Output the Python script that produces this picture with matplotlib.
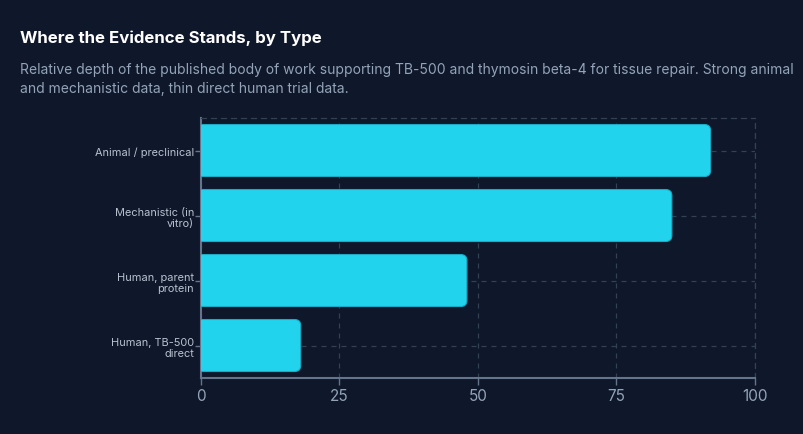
import matplotlib.pyplot as plt
from matplotlib.patches import FancyBboxPatch

categories = ['Animal / preclinical', 'Mechanistic (in\nvitro)',
              'Human, parent\nprotein', 'Human, TB-500\ndirect']
values = [92, 85, 48, 18]
xticks = [0, 25, 50, 75, 100]

bg = '#0f172a'
bar_col = '#22d3ee'
grid_col = '#334155'
axis_col = '#64748b'

plt.rcParams['font.family'] = ['Inter', 'DejaVu Sans']

fig = plt.figure(figsize=(8.04, 4.35), dpi=100, facecolor=bg)
ax = fig.add_axes([0.25, 0.1287, 0.689, 0.5977], facecolor=bg)

ypos = list(range(len(categories)))
bars = ax.barh(ypos, values, height=0.8, color='none')

# swap plain bars for ones with rounded right corners
for b in bars:
    x0, y0 = b.get_x(), b.get_y()
    w, h = b.get_width(), b.get_height()
    p = FancyBboxPatch((x0 - 3, y0), w + 3, h,
                       boxstyle='round,pad=0,rounding_size=1.1',
                       mutation_aspect=0.085,
                       facecolor=bar_col, edgecolor='#1ba9c4', linewidth=0.8,
                       zorder=3)
    ax.add_patch(p)
    b.remove()

ax.set_xlim(0, 100)
ax.set_ylim(3.5, -0.5)
ax.set_yticks(ypos)
ax.set_yticklabels(categories, fontsize=7.9, color='#b8c2d0', linespacing=1.2)
ax.set_xticks(xticks)
ax.set_xticklabels([str(t) for t in xticks], fontsize=11, color='#94a3b8')

ax.grid(True, color=grid_col, linestyle=(0, (4, 4)), linewidth=0.9, zorder=0)
ax.set_axisbelow(True)

for s in ['top', 'right']:
    ax.spines[s].set_color(grid_col)
    ax.spines[s].set_linestyle((0, (4, 4)))
    ax.spines[s].set_linewidth(0.9)
for s in ['left', 'bottom']:
    ax.spines[s].set_color(axis_col)
    ax.spines[s].set_linewidth(1.5)

ax.tick_params(axis='y', length=4, width=1, color=axis_col, pad=1)
ax.tick_params(axis='x', length=5, width=1, color=axis_col, pad=2)

fig.text(0.025, 0.913, 'Where the Evidence Stands, by Type', fontsize=12.1,
         fontweight='bold', color='white', va='center')
fig.text(0.025, 0.818,
         'Relative depth of the published body of work supporting TB-500 and thymosin beta-4 for tissue repair. Strong animal\n'
         'and mechanistic data, thin direct human trial data.',
         fontsize=10, color='#94a3b8', va='center', linespacing=1.45)

fig.savefig('out.png', dpi=100, facecolor=bg)
